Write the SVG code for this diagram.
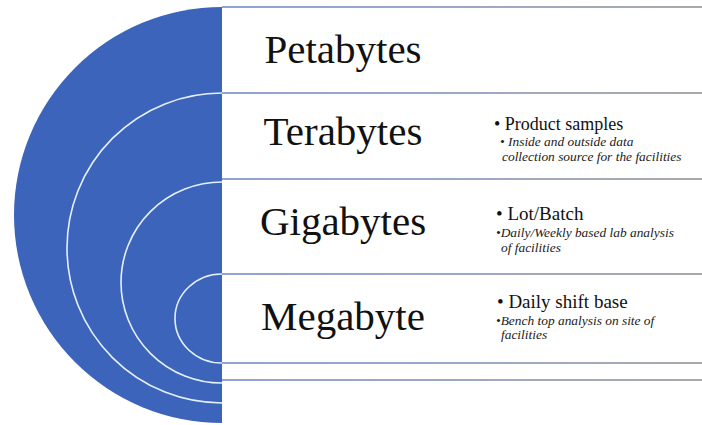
<svg xmlns="http://www.w3.org/2000/svg" width="702" height="425" viewBox="0 0 702 425">
  <defs>
    <linearGradient id="lineGrad" gradientUnits="userSpaceOnUse" x1="222" y1="0" x2="702" y2="0">
      <stop offset="0" stop-color="#6a86c4"/>
      <stop offset="0.6" stop-color="#7d8db0"/>
      <stop offset="1" stop-color="#8c8c8c"/>
    </linearGradient>
  </defs>
  <style>
    .head { font-family: "Liberation Serif", "Times New Roman", serif; font-size: 41px; fill: #111; text-anchor: middle; }
    .b1 { font-family: "Liberation Serif", "Times New Roman", serif; font-size: 19px; fill: #111; }
    .b2 { font-family: "Liberation Serif", "Times New Roman", serif; font-size: 13.4px; font-style: italic; fill: #1a1a1a; }
    .sep { stroke: url(#lineGrad); stroke-width: 1.6; fill: none; }
    .ring { stroke: #e4f0ff; stroke-width: 1.6; fill: none; }
  </style>
  <rect width="702" height="425" fill="#ffffff"/>

  <g id="disc">
    <path d="M222,7 A208,208 0 0 0 222,423 Z" fill="#3c64ba"/>
    <path class="ring" d="M222,93 A155,155 0 0 0 222,403"/>
    <path class="ring" d="M222,182 A101,100.5 0 0 0 222,383"/>
    <path class="ring" d="M222,274 A47,44.5 0 0 0 222,363"/>
  </g>

  <g id="connectors">
    <line class="sep" x1="222" y1="7" x2="702" y2="7"/>
    <line class="sep" x1="222" y1="93" x2="702" y2="93"/>
    <line class="sep" x1="222" y1="179" x2="702" y2="179"/>
    <line class="sep" x1="222" y1="274" x2="702" y2="274"/>
    <line class="sep" x1="222" y1="363" x2="702" y2="363"/>
    <line class="sep" x1="222" y1="380" x2="702" y2="380"/>
  </g>

  <g id="petabytes">
    <text class="head" x="343" y="63">Petabytes</text>
  </g>

  <g id="terabytes">
    <text class="head" x="343" y="145">Terabytes</text>
    <text class="b1" x="494" y="130" style="font-size:18px">• Product samples</text>
    <text class="b2" x="500" y="146">• Inside and outside data</text>
    <text class="b2" x="502" y="161">collection source for the facilities</text>
  </g>

  <g id="gigabytes">
    <text class="head" x="343" y="235">Gigabytes</text>
    <text class="b1" x="496" y="220">• Lot/Batch</text>
    <text class="b2" x="496" y="237">•Daily/Weekly based lab analysis</text>
    <text class="b2" x="501" y="252">of facilities</text>
  </g>

  <g id="megabyte">
    <text class="head" x="343" y="330">Megabyte</text>
    <text class="b1" x="497" y="308">• Daily shift base</text>
    <text class="b2" x="496" y="325">•Bench top analysis on site of</text>
    <text class="b2" x="501" y="339">facilities</text>
  </g>
</svg>
